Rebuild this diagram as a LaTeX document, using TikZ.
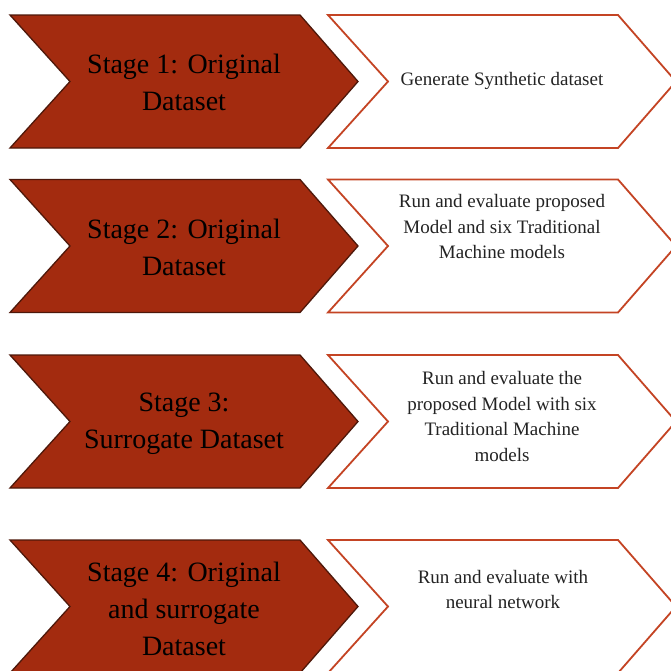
\documentclass[tikz,border=0pt]{standalone}
\usepackage{fontspec}
\setmainfont{Liberation Serif}
\definecolor{stagefill}{RGB}{163,43,15}
\definecolor{stagedraw}{RGB}{78,24,10}
\definecolor{taskdraw}{RGB}{196,68,36}
\definecolor{tasktext}{RGB}{35,35,35}
\tikzset{
  chev/.pic={\path[pic actions] (0,0) -- (290,0) -- (348,66.5) -- (290,133) -- (0,133) -- (60,66.5) -- cycle;},
  stagechev/.style={fill=stagefill, draw=stagedraw, line width=1.3pt, line join=miter},
  taskchev/.style={fill=white, draw=taskdraw, line width=1.8pt, line join=miter},
  stagetext/.style={inner sep=0pt, align=center, text=black, font={\fontsize{28}{37}\selectfont}},
  tasktxt/.style={inner sep=0pt, align=center, text=tasktext, font={\fontsize{19}{25.5}\selectfont}}
}
\begin{document}
\begin{tikzpicture}[x=1pt,y=-1pt]
\useasboundingbox (0,0) rectangle (671,670);
\clip (0,0) rectangle (671,670);
\fill[white] (0,0) rectangle (671,670);
% row 1
\pic[stagechev] at (10,15) {chev};
\pic[taskchev] at (328,15) {chev};
\node[stagetext] (s1) at (184,82.5) {Stage 1: Original\\Dataset};
\node[tasktxt] (t1) at (502,81) {Generate Synthetic dataset};
% row 2
\pic[stagechev] at (10,179.5) {chev};
\pic[taskchev] at (328,179.5) {chev};
\node[stagetext] (s2) at (184,247.5) {Stage 2: Original\\Dataset};
\node[tasktxt] (t2) at (502,226.5) {Run and evaluate proposed\\Model and six Traditional\\Machine models};
% row 3
\pic[stagechev] at (10,355) {chev};
\pic[taskchev] at (328,355) {chev};
\node[stagetext] (s3) at (184,423.5) {Stage 3:\\Surrogate Dataset};
\node[tasktxt] (t3) at (502,416.5) {Run and evaluate the\\proposed Model with six\\Traditional Machine\\models};
% row 4
\pic[stagechev] at (10,540) {chev};
\pic[taskchev] at (328,540) {chev};
\node[stagetext] (s4) at (184,609) {Stage 4: Original\\and surrogate\\Dataset};
\node[tasktxt] (t4) at (503,589.5) {Run and evaluate with\\neural network};
\end{tikzpicture}
\end{document}
